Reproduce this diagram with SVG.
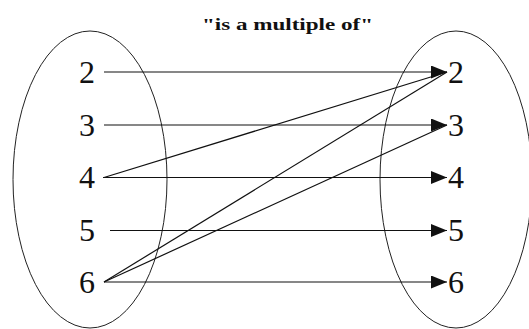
<svg xmlns="http://www.w3.org/2000/svg" width="529" height="329" viewBox="0 0 529 329">
<defs>
<marker id="ah" markerWidth="16" markerHeight="13" refX="16" refY="6.5" orient="auto" markerUnits="userSpaceOnUse">
<path d="M0,0 L16,6.5 L0,13 Z" fill="#111"/>
</marker>
</defs>
<rect width="529" height="329" fill="#fff"/>
<text font-family="Liberation Serif" font-size="17" font-weight="bold" fill="#111" x="202" y="30" textLength="171" lengthAdjust="spacingAndGlyphs">"is a multiple of"</text>
<g id="domain">
<ellipse fill="none" stroke="#222" stroke-width="1" cx="90" cy="179.5" rx="77" ry="148.5"/>
</g>
<g id="codomain">
<ellipse fill="none" stroke="#222" stroke-width="1" cx="456" cy="179.5" rx="76" ry="148.5"/>
</g>
<g font-family="Liberation Serif" font-size="32" fill="#111">
<g id="a2"><text x="79" y="83">2</text></g>
<g id="a3"><text x="79" y="136">3</text></g>
<g id="a4"><text x="79" y="188">4</text></g>
<g id="a5"><text x="79" y="241">5</text></g>
<g id="a6"><text x="79" y="293">6</text></g>
<g id="b2"><text x="448" y="83">2</text></g>
<g id="b3"><text x="448" y="136">3</text></g>
<g id="b4"><text x="448" y="188">4</text></g>
<g id="b5"><text x="448" y="241">5</text></g>
<g id="b6"><text x="448" y="293">6</text></g>
</g>
<g id="connectors" stroke="#111" stroke-width="1.2">
<line x1="104" y1="72" x2="447" y2="72" marker-end="url(#ah)"/>
<line x1="104" y1="125" x2="447" y2="125" marker-end="url(#ah)"/>
<line x1="103" y1="177.5" x2="447" y2="177.5" marker-end="url(#ah)"/>
<line x1="110" y1="230.5" x2="447" y2="230.5" marker-end="url(#ah)"/>
<line x1="104" y1="282" x2="447" y2="282" marker-end="url(#ah)"/>
<line x1="104" y1="177.5" x2="447" y2="72"/>
<line x1="104" y1="282" x2="447" y2="72"/>
<line x1="104" y1="282" x2="447" y2="125"/>
</g>
</svg>
